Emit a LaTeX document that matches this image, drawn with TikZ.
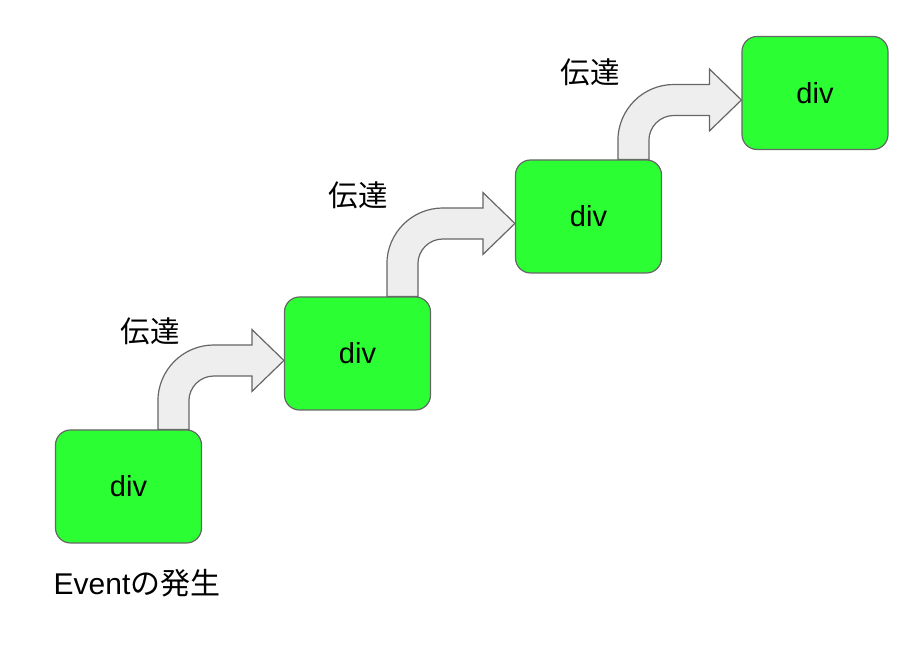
\documentclass[tikz,border=0pt]{standalone}
\usepackage{fontspec}
\setmainfont{Liberation Sans}
\newfontfamily\jpfont{Noto Sans CJK JP}
\usetikzlibrary{calc,backgrounds}

\definecolor{divgreen}{HTML}{2BFF33}
\definecolor{edgegray}{HTML}{666666}
\definecolor{flowgray}{HTML}{EEEEEE}

\tikzset{
  divbox/.style={draw=edgegray, fill=divgreen, rounded corners=15pt, line width=1.2pt,
    minimum width=146pt, minimum height=113pt, font=\fontsize{29}{34}\selectfont},
  flow/.style={draw=edgegray, fill=flowgray, line width=1.2pt},
  lbl/.style={font=\fontsize{29.5}{34}\selectfont\jpfont}
}

% fat bent arrow from the top of #1 to the left side of #2
\newcommand{\flowarrow}[2]{%
  \path[flow] let \p1=(#1.north west), \p2=($(#2.west)+(0,-7pt)$) in
    (\x1+103pt,\y1) -- (\x1+103pt,\y2-40.5pt)
    arc[start angle=180, end angle=90, radius=56pt]
    -- (\x2-32pt,\y2+15.5pt) -- (\x2-32pt,\y2+31pt) -- (\x2,\y2)
    -- (\x2-32pt,\y2-31pt) -- (\x2-32pt,\y2-15.5pt) -- (\x1+159pt,\y2-15.5pt)
    arc[start angle=90, end angle=180, radius=25pt]
    -- (\x1+134pt,\y1) -- cycle;
}

\begin{document}
\begin{tikzpicture}[x=1pt,y=1pt]
\useasboundingbox (0,0) rectangle (914,652);

\node[divbox] (box1) at (128.5,165.5) {div};
\node[divbox] (box2) at (357.5,298.5) {div};
\node[divbox] (box3) at (588.5,435.5) {div};
\node[divbox] (box4) at (815,559) {div};

\begin{scope}[on background layer]
\flowarrow{box1}{box2}
\flowarrow{box2}{box3}
\flowarrow{box3}{box4}
\end{scope}

\node[lbl] (lbl1) at (150,321) {伝達};
\node[lbl] (lbl2) at (358,457) {伝達};
\node[lbl] (lbl3) at (590,580) {伝達};

\node[font=\fontsize{30}{34}\selectfont] (start) at (137,69) {Event{\jpfont の発生}};

\end{tikzpicture}
\end{document}
